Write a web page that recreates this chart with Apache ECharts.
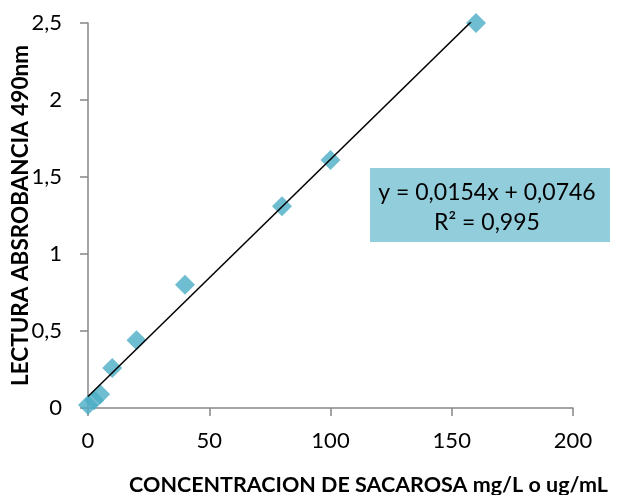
<!DOCTYPE html>
<html><head><meta charset="utf-8">
<script src="https://cdn.jsdelivr.net/npm/echarts@6/dist/echarts.min.js"></script>
<style>html,body{margin:0;padding:0;background:#fff}#c{width:619px;height:495px}</style>
</head><body><div id="c"></div>
<script>
const concentration = [0, 2.5, 5, 10, 20, 40, 80, 100, 160];
const absorbance = [0.02, 0.05, 0.09, 0.26, 0.44, 0.80, 1.31, 1.61, 2.50];
const slope = 0.0154;
const intercept = 0.0746;
const trendRange = [0, 160];
const equationText = 'y = 0,0154x + 0,0746';
const r2Text = 'R² = 0,995';
const xTitle = 'CONCENTRACION DE SACAROSA mg/L o ug/mL';
const yTitle = 'LECTURA ABSROBANCIA 490nm';

const font = 'Lato, "Open Sans", sans-serif';
const fmt = v => String(v).replace('.', ',');
const chart = echarts.init(document.getElementById('c'));
chart.setOption({
  animation: false,
  grid: {left: 88, right: 46, top: 23, bottom: 87, containLabel: false, outerBoundsMode: 'none'},
  xAxis: {
    type: 'value', min: 0, max: 200, interval: 50,
    name: xTitle, nameLocation: 'middle', nameGap: 66, nameMoveOverlap: false,
    nameTextStyle: {fontFamily: font, fontWeight: 'bold', fontSize: 21.5, color: '#000', padding: [0, 0, 0, 76]},
    axisLine: {show: true, lineStyle: {color: '#868686', width: 1.5}},
    axisTick: {show: true, length: 8, lineStyle: {color: '#868686', width: 1.5}},
    splitLine: {show: false},
    axisLabel: {fontFamily: font, fontSize: 22, color: '#000', margin: 22, formatter: fmt}
  },
  yAxis: {
    type: 'value', min: 0, max: 2.5, interval: 0.5,
    name: yTitle, nameLocation: 'middle', nameGap: 56, nameMoveOverlap: false,
    nameTextStyle: {fontFamily: font, fontWeight: 'bold', fontSize: 22.5, color: '#000'},
    axisLine: {show: true, lineStyle: {color: '#868686', width: 1.5}},
    axisTick: {show: true, length: 8, lineStyle: {color: '#868686', width: 1.5}},
    splitLine: {show: false},
    axisLabel: {fontFamily: font, fontSize: 22, color: '#000', margin: 26, formatter: fmt}
  },
  series: [
    {
      type: 'scatter', symbol: 'diamond', symbolSize: 20,
      itemStyle: {color: '#4BACC6'},
      data: concentration.map((x, i) => [x, absorbance[i]]),
      z: 2
    },
    {
      type: 'line', showSymbol: false, symbol: 'none',
      lineStyle: {color: '#000', width: 1.5},
      data: trendRange.map(x => [x, slope * x + intercept]),
      z: 3
    }
  ],
  graphic: [{
    type: 'group', left: 370, top: 168,
    children: [
      {type: 'rect', shape: {x: 0, y: 0, width: 240, height: 74}, style: {fill: '#92CDDC'}},
      {type: 'text', x: 117, y: 25, style: {text: equationText, fontFamily: font, fontSize: 23, fill: '#000', align: 'center', verticalAlign: 'middle'}},
      {type: 'text', x: 117, y: 55, style: {text: r2Text, fontFamily: font, fontSize: 23, fill: '#000', align: 'center', verticalAlign: 'middle'}}
    ]
  }]
});
</script></body></html>
